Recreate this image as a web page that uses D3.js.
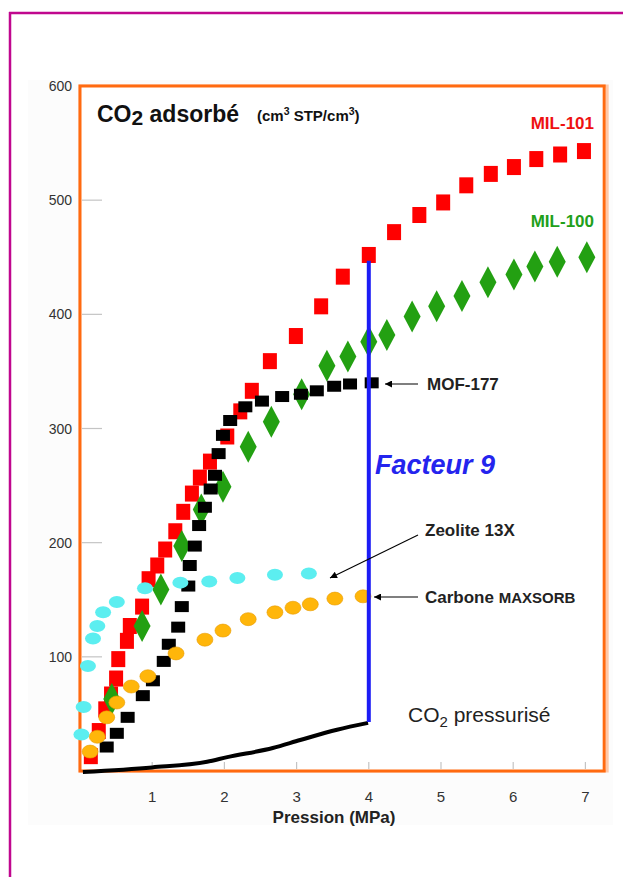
<!DOCTYPE html>
<html><head><meta charset="utf-8">
<script src="https://cdn.jsdelivr.net/npm/d3@7"></script>
<style>
html,body{margin:0;padding:0;background:#fff;}
svg{display:block;font-family:"Liberation Sans",Arial,Helvetica,sans-serif;}
</style></head>
<body>
<svg id="c" width="623" height="877"></svg>
<script>
// ---- data ----
const xTicks = [1,2,3,4,5,6,7];
const yTicks = [100,200,300,400,500,600];

const mil101P = [0.15,0.26,0.35,0.43,0.5,0.53,0.65,0.69,0.86,0.95,1.07,1.18,1.32,1.43,1.55,1.66,1.8,2.04,2.22,2.38,2.63,2.99,3.34,3.64,4.0,4.35,4.7,5.03,5.35,5.69,6.01,6.32,6.65,6.98];
const mil101V = [13,35,54,67,81,98,114,127,144,168,180,194,210,227,243,257,271,293,315,333,359,381,407,433,452,472,487,498,513,523,529,536,540,543];

const mil100P = [0.44,0.86,1.12,1.41,1.68,1.98,2.33,2.65,3.07,3.42,3.71,4.0,4.25,4.6,4.94,5.29,5.65,6.01,6.3,6.61,7.02];
const mil100V = [63,127,159,197,229,249,284,306,330,355,363,376,382,398,407,416,428,435,442,446,450];

const mofP = [0.37,0.51,0.66,0.87,1.01,1.16,1.23,1.36,1.41,1.5,1.52,1.59,1.65,1.73,1.81,1.87,1.92,1.98,2.08,2.29,2.52,2.8,3.06,3.28,3.52,3.74,4.04];
const mofV = [21,33,47,66,79,96,111,126,144,162,180,197,215,231,247,259,278,294,307,319,324,328,330,333,337,339,340];

const zeoP = [0.02,0.05,0.11,0.18,0.24,0.32,0.51,0.9,1.39,1.79,2.18,2.7,3.17];
const zeoV = [32,56,92,116,127,139,148,160,165,166,169,172,173];

const carbP = [0.14,0.24,0.37,0.51,0.71,0.94,1.33,1.73,1.98,2.33,2.7,2.95,3.19,3.53,3.92];
const carbV = [17,30,47,60,74,83,103,115,123,133,139,143,146,151,153];

const co2P = [0.04,1.0,1.76,2.04,2.67,3.05,3.56,3.99];
const co2V = [0,4,9,13,21,28,37,43];

const factorP = 4.0;
const factorRange = [43,447];

// ---- layout ----
const svg = d3.select("#c");
const x = d3.scaleLinear().domain([0,7]).range([80,585.4]);
const y = d3.scaleLinear().domain([0,600]).range([771,86]);
const xFrameMax = 7.26;
const zip = (a,b)=>a.map((d,i)=>[d,b[i]]);

// page border (magenta)
svg.append("line").attr("x1",10).attr("x2",10).attr("y1",12).attr("y2",877).attr("stroke","#c0078e").attr("stroke-width",2.5);
svg.append("line").attr("x1",9).attr("x2",623).attr("y1",13).attr("y2",13).attr("stroke","#c0078e").attr("stroke-width",2.5);

// light panel behind
svg.append("rect").attr("x",28).attr("y",80).attr("width",585).attr("height",745).attr("fill","#fcfcfc");

// frame shadow + frame
svg.append("rect").attr("x",x(0)).attr("y",y(600)).attr("width",x(xFrameMax)-x(0)+3).attr("height",y(0)-y(600))
  .attr("fill","#fff").attr("stroke","#ffc8a8").attr("stroke-width",3);
svg.append("rect").attr("x",x(0)).attr("y",y(600)).attr("width",x(xFrameMax)-x(0)).attr("height",y(0)-y(600))
  .attr("fill","#fff").attr("stroke","#ff6a10").attr("stroke-width",3);

// y ticks
const gy = svg.append("g");
gy.selectAll("line").data(yTicks.filter(d=>d<600)).join("line")
  .attr("x1",x(0)+2).attr("x2",x(0)+22).attr("y1",d=>y(d)).attr("y2",d=>y(d))
  .attr("stroke","#c4c4c4").attr("stroke-width",1.2);
gy.selectAll("text").data(yTicks).join("text")
  .attr("x",72).attr("y",d=>y(d)+5).attr("text-anchor","end")
  .attr("font-size",14).attr("fill","#333").text(d=>d);

// x ticks
const gx = svg.append("g");
gx.selectAll("line").data(xTicks).join("line")
  .attr("x1",d=>x(d)).attr("x2",d=>x(d)).attr("y1",y(0)-2).attr("y2",y(0)-9)
  .attr("stroke","#c4c4c4").attr("stroke-width",1.2);
gx.selectAll("text").data(xTicks).join("text")
  .attr("x",d=>x(d)).attr("y",y(0)+31).attr("text-anchor","middle")
  .attr("font-size",15).attr("fill","#333").text(d=>d);

svg.append("text").attr("x",334).attr("y",y(0)+52).attr("text-anchor","middle")
  .attr("font-size",17).attr("font-weight","bold").attr("fill","#222").text("Pression (MPa)");

// title
const t = svg.append("text").attr("x",97).attr("y",122).attr("font-weight","bold").attr("fill","#111");
t.append("tspan").attr("font-size",23).text("CO");
t.append("tspan").attr("font-size",21).attr("dy",3).text("2");
t.append("tspan").attr("font-size",23).attr("dy",-3).text(" adsorbé");
const u = svg.append("text").attr("x",257).attr("y",121).attr("font-weight","bold").attr("fill","#111").attr("font-size",15);
u.append("tspan").text("(cm");
u.append("tspan").attr("font-size",10.5).attr("dy",-6).text("3");
u.append("tspan").attr("dy",6).text(" STP/cm");
u.append("tspan").attr("font-size",10.5).attr("dy",-6).text("3");
u.append("tspan").attr("dy",6).text(")");

// series labels
svg.append("text").attr("x",594).attr("y",129).attr("text-anchor","end").attr("font-size",17).attr("font-weight","bold").attr("fill","#ee1111").text("MIL-101");
svg.append("text").attr("x",594).attr("y",227).attr("text-anchor","end").attr("font-size",17).attr("font-weight","bold").attr("fill","#22a01a").text("MIL-100");

// CO2 pressurised line
svg.append("path").datum(zip(co2P,co2V))
  .attr("d",d3.line().x(d=>x(d[0])).y(d=>y(d[1])+1).curve(d3.curveMonotoneX))
  .attr("fill","none").attr("stroke","#000").attr("stroke-width",4);

// markers: red squares
svg.append("g").selectAll("rect").data(zip(mil101P,mil101V)).join("rect")
  .attr("x",d=>x(d[0])-7).attr("y",d=>y(d[1])-8).attr("width",14).attr("height",16).attr("fill","#ff0000");

// green diamonds
svg.append("g").selectAll("path").data(zip(mil100P,mil100V)).join("path")
  .attr("d",d=>{const cx=x(d[0]),cy=y(d[1]);return `M${cx},${cy-16}L${cx+8.5},${cy}L${cx},${cy+16}L${cx-8.5},${cy}Z`;})
  .attr("fill","#23a012");

// black squares
svg.append("g").selectAll("rect").data(zip(mofP,mofV)).join("rect")
  .attr("x",d=>x(d[0])-7).attr("y",d=>y(d[1])-5.5).attr("width",14).attr("height",11).attr("fill","#000");

// cyan ellipses
svg.append("g").selectAll("ellipse").data(zip(zeoP,zeoV)).join("ellipse")
  .attr("cx",d=>x(d[0])).attr("cy",d=>y(d[1])).attr("rx",8).attr("ry",6).attr("fill","#5ceef0");

// orange ellipses
svg.append("g").selectAll("ellipse").data(zip(carbP,carbV)).join("ellipse")
  .attr("cx",d=>x(d[0])).attr("cy",d=>y(d[1])).attr("rx",8).attr("ry",6.5).attr("fill","#ffb60a").attr("stroke","#e89a00").attr("stroke-width",0.6);

// blue factor line
svg.append("line").attr("x1",x(factorP)).attr("x2",x(factorP)).attr("y1",y(factorRange[0])).attr("y2",y(factorRange[1]))
  .attr("stroke","#1c1cf5").attr("stroke-width",4);
svg.append("text").attr("x",375).attr("y",474).attr("font-size",27).attr("font-weight","bold").attr("font-style","italic")
  .attr("fill","#2424ee").text("Facteur 9");

// arrows
const defs = svg.append("defs");
defs.append("marker").attr("id","ah").attr("viewBox","0 0 10 10").attr("refX",10).attr("refY",5)
  .attr("markerWidth",12).attr("markerHeight",7).attr("markerUnits","userSpaceOnUse").attr("orient","auto")
  .append("path").attr("d","M0,0L10,5L0,10Z").attr("fill","#000");
function arrow(x1,y1,x2,y2){
  svg.append("line").attr("x1",x1).attr("y1",y1).attr("x2",x2).attr("y2",y2)
    .attr("stroke","#000").attr("stroke-width",1.1).attr("marker-end","url(#ah)");
}
arrow(418,384,385,384);
arrow(418,535,330,578);
arrow(418,597,374,597);

svg.append("text").attr("x",427).attr("y",390).attr("font-size",17).attr("font-weight","bold").attr("fill","#222").text("MOF-177");
svg.append("text").attr("x",425).attr("y",536).attr("font-size",17).attr("font-weight","bold").attr("fill","#222").text("Zeolite 13X");
const cb = svg.append("text").attr("x",425).attr("y",603).attr("font-weight","bold").attr("fill","#222");
cb.append("tspan").attr("font-size",17).text("Carbone ");
cb.append("tspan").attr("font-size",15).text("MAXSORB");

const cp = svg.append("text").attr("x",408).attr("y",722).attr("fill","#222");
cp.append("tspan").attr("font-size",21).text("CO");
cp.append("tspan").attr("font-size",15).attr("dy",5).text("2");
cp.append("tspan").attr("font-size",21).attr("dy",-5).text("  pressurisé");
</script>
</body></html>
